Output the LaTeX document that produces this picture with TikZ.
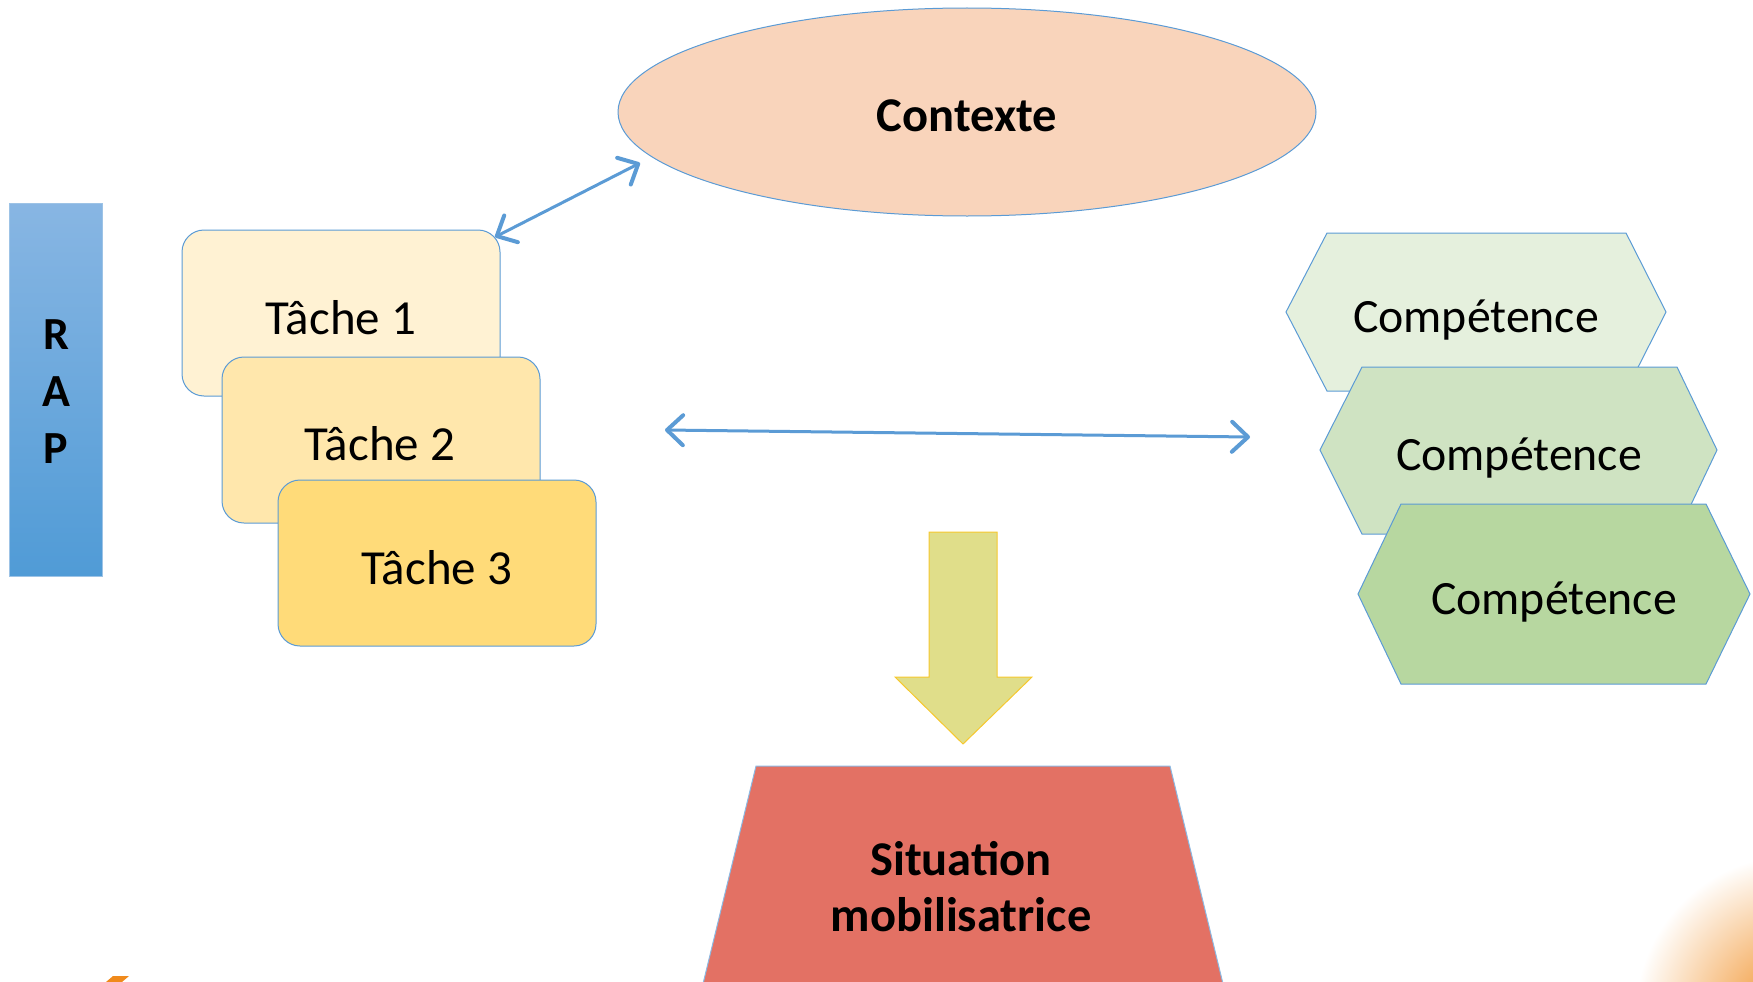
\documentclass[tikz,border=0pt]{standalone}
\usepackage{fontspec}
\setmainfont{Carlito}
\usetikzlibrary{arrows.meta,shapes.geometric}
\definecolor{blueline}{HTML}{5B9BD5}
\definecolor{rapTop}{HTML}{88B6E3}
\definecolor{rapBot}{HTML}{509BD6}
\definecolor{ctxFill}{HTML}{F9D4BB}
\definecolor{tA}{HTML}{FFF2D3}
\definecolor{tB}{HTML}{FFE7AC}
\definecolor{tC}{HTML}{FFDB79}
\definecolor{hA}{HTML}{E5F0DD}
\definecolor{hB}{HTML}{CFE3C2}
\definecolor{hC}{HTML}{B7D7A0}
\definecolor{yArrow}{HTML}{E0DE8A}
\definecolor{yBorder}{HTML}{F6C82E}
\definecolor{trap}{HTML}{E37164}
\definecolor{orangeDeco}{HTML}{F08A1C}
\tikzset{
  tachebox/.style={draw=blueline, line width=1pt, rounded corners=22pt,
    minimum width=318pt, minimum height=166pt},
  bigtext/.style={font=\fontsize{49}{52}\selectfont},
  comptext/.style={font=\fontsize{47.8}{52}\selectfont},
  boldtext/.style={font=\bfseries\fontsize{48.5}{56}\selectfont, align=center},
  hexa/.style={draw=blueline, line width=1pt},
  link/.style={draw=blueline, line width=3pt,
    {Straight Barb[length=16pt,width=30pt,line width=4pt,round]}-{Straight Barb[length=16pt,width=30pt,line width=4pt,round]}}
}
\begin{document}
\begin{tikzpicture}[x=1pt,y=-1pt]
\useasboundingbox (0,0) rectangle (1753,982);
% decorations
\begin{scope}
\clip (0,0) rectangle (1753,982);
\shade[inner color=orangeDeco, outer color=white] (1795,1015) circle (160);
\end{scope}
\fill[orangeDeco] (113,976) -- (129,976) -- (122,982) -- (106,982) -- cycle;
% RAP bar
\shade[top color=rapTop, bottom color=rapBot, draw=blueline!60, line width=0.8pt] (9,203) rectangle (102,576);
\node[font=\bfseries\fontsize{46}{57}\selectfont, align=center] (rap) at (56,392) {R\\A\\P};
% Contexte
\node[ellipse, draw=blueline, line width=1pt, fill=ctxFill, minimum width=698pt, minimum height=208pt] (ctx) at (967,112) {};
\node[boldtext] (ctxt) at (967,116) {Contexte};
% Taches
\node[tachebox, fill=tA] (t1) at (341,313) {};
\node[bigtext] (t1t) at (341,318) {Tâche 1};
\node[tachebox, fill=tB] (t2) at (381,440) {};
\node[bigtext] (t2t) at (380,444) {Tâche 2};
\node[tachebox, fill=tC] (t3) at (437,563) {};
\node[bigtext] (t3t) at (437,568) {Tâche 3};
% Competences
\draw[hexa, fill=hA] (1286,312) -- (1327,233) -- (1626,233) -- (1666,312) -- (1626,391) -- (1327,391) -- cycle;
\node[comptext] (c1) at (1476,320.5) {Compétence};
\draw[hexa, fill=hB] (1320,450) -- (1362,367) -- (1677,367) -- (1717,450) -- (1677,534) -- (1362,534) -- cycle;
\node[comptext] (c2) at (1519,458.5) {Compétence};
\draw[hexa, fill=hC] (1358,594) -- (1401,504) -- (1706,504) -- (1750,594) -- (1706,684) -- (1401,684) -- cycle;
\node[comptext] (c3) at (1554,602.5) {Compétence};
% connectors
\coordinate (dA) at (495,237);
\coordinate (dB) at (640,163);
\coordinate (hL) at (665,430);
\coordinate (hR) at (1250,437);
\draw[link] (dA) -- (dB);
\draw[link] (hL) -- (hR);
% big yellow arrow
\draw[fill=yArrow, draw=yBorder, line width=1pt, line join=miter]
  (929,532) -- (997,532) -- (997,677) -- (1032,677) -- (963,744) -- (895,677) -- (929,677) -- cycle;
% Situation mobilisatrice
\begin{scope}
\clip (0,0) rectangle (1753,982);
\draw[fill=trap, draw=blueline!70, line width=1pt] (756,766) -- (1170,766) -- (1225,992) -- (701,992) -- cycle;
\end{scope}
\node[boldtext] (sit) at (961,887) {Situation\\mobilisatrice};
\end{tikzpicture}
\end{document}
